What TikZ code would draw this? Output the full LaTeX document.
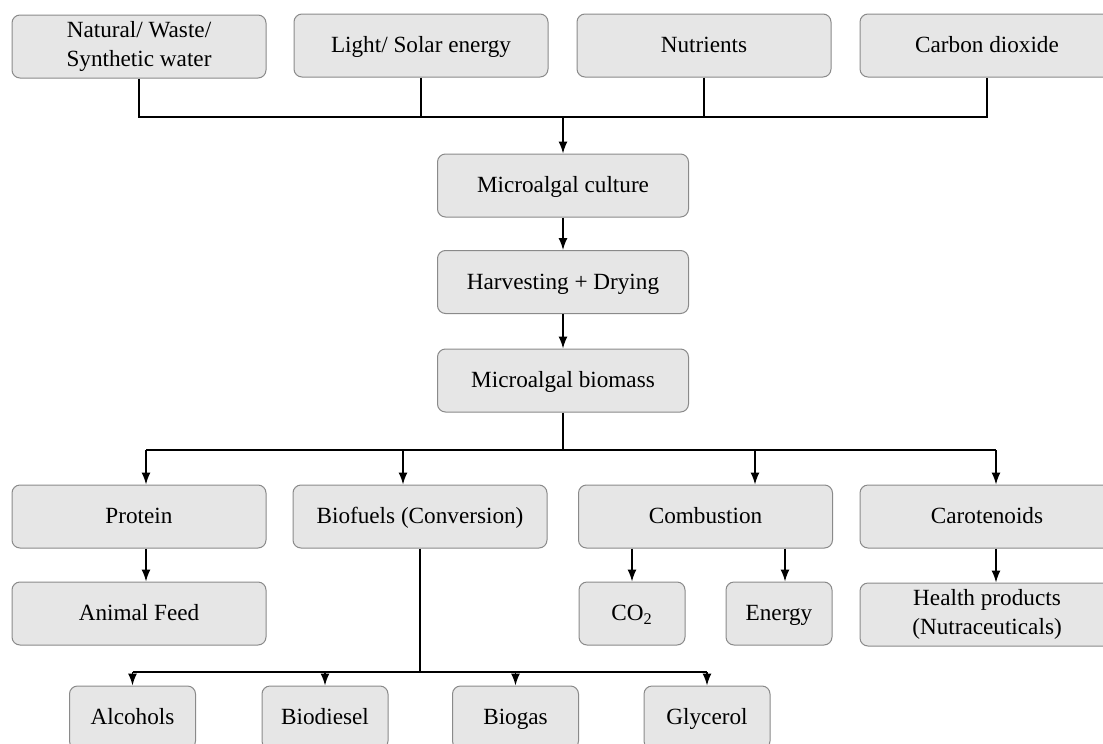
\documentclass[tikz,border=0pt]{standalone}
\usepackage{fontspec}
\setmainfont{Liberation Serif}
\usepackage{xcolor}
\usetikzlibrary{arrows.meta,positioning}
\definecolor{boxfill}{HTML}{E6E6E6}
\definecolor{boxedge}{HTML}{8A8A8A}
\tikzstyle{boxy} = [rectangle, rounded corners=4pt, minimum width=127pt, minimum
height=31.5pt, inner sep=1pt, text centered, align=center, draw=boxedge, line width=0.5pt,
fill=boxfill, text height=9pt, text depth=2pt, font=\fontsize{11.6}{14.5}\selectfont]
\tikzstyle{boxytwo} = [boxy, text height={}, text depth={}]
\tikzstyle{boxymid} = [boxy, minimum width=125.5pt]
\tikzstyle{boxysmall} = [boxy, minimum width=53pt]
\tikzstyle{boxyfuel} = [boxy, minimum width=63pt]
\tikzstyle{line} = [line width=0.7pt, black]
\tikzstyle{arrow} = [line, -{Latex[length=6pt,width=4.5pt]}]

\begin{document}
\begin{tikzpicture}[x=0.5pt, y=-0.5pt]
        \useasboundingbox (0,0) rectangle (1103,744);
        \clip (0,0) rectangle (1103,744);
        % inputs
        \node (water) [boxytwo] at (139,46.5) {Natural/ Waste/\\Synthetic water};
        \node (light) [boxy] at (421,45.5) {Light/ Solar energy};
        \node (nutrients) [boxy] at (704,45.5) {Nutrients};
        \node (carbon) [boxy] at (987,45.5) {Carbon dioxide};
        % process
        \node (culture) [boxymid] at (563,185.5) {Microalgal culture};
        \node (harvest) [boxymid] at (563,282) {Harvesting + Drying};
        \node (biomass) [boxymid] at (563,380.5) {Microalgal biomass};
        % products
        \node (protein) [boxy] at (139,516.5) {Protein};
        \node (biofuels) [boxy] at (420,516.5) {Biofuels (Conversion)};
        \node (combustion) [boxy] at (705.5,516.5) {Combustion};
        \node (carotenoids) [boxy] at (987,516.5) {Carotenoids};
        \node (feed) [boxy] at (139,613.5) {Animal Feed};
        \node (co2) [boxysmall] at (632,613.5) {CO\textsubscript{2}};
        \node (energy) [boxysmall] at (779,613.5) {Energy};
        \node (health) [boxytwo] at (987,614.5) {Health products\\(Nutraceuticals)};
        \node (alcohols) [boxyfuel] at (132.5,717.5) {Alcohols};
        \node (biodiesel) [boxyfuel] at (325,717.5) {Biodiesel};
        \node (biogas) [boxyfuel] at (515.5,717.5) {Biogas};
        \node (glycerol) [boxyfuel] at (707,717.5) {Glycerol};
        %
        \coordinate (topjoin) at (563,117);
        \coordinate (toprot) at (146,450);
        \coordinate (tofuel) at (403,450);
        \coordinate (tocomb) at (755,450);
        \coordinate (tocaro) at (996,450);
        \coordinate (lowjoin) at (420,672);
        %
        \draw [line] (water.south) |- (carbon.south |- topjoin) -- (carbon.south);
        \draw [line] (light.south) -- (light.south |- topjoin);
        \draw [line] (nutrients.south) -- (nutrients.south |- topjoin);
        \draw [arrow] (topjoin) -- (culture.north);
        \draw [arrow] (culture.south) -- (harvest.north);
        \draw [arrow] (harvest.south) -- (biomass.north);
        \draw [line] (biomass.south) -- (biomass.south |- toprot);
        \draw [line] (toprot) -- (tocaro);
        \draw [arrow] (toprot) -- (toprot |- protein.north);
        \draw [arrow] (tofuel) -- (tofuel |- biofuels.north);
        \draw [arrow] (tocomb) -- (tocomb |- combustion.north);
        \draw [arrow] (tocaro) -- (tocaro |- carotenoids.north);
        \draw [arrow] (toprot |- protein.south) -- (toprot |- feed.north);
        \draw [arrow] (co2 |- combustion.south) -- (co2.north);
        \draw [arrow] ([xshift=3pt]energy.north |- combustion.south) -- ([xshift=3pt]energy.north);
        \draw [arrow] (tocaro |- carotenoids.south) -- (tocaro |- health.north);
        \draw [line] (biofuels.south) -- (lowjoin);
        \draw [line] (alcohols.north |- lowjoin) -- (glycerol.north |- lowjoin);
        \draw [arrow] (alcohols.north |- lowjoin) -- (alcohols.north);
        \draw [arrow] (biodiesel.north |- lowjoin) -- (biodiesel.north);
        \draw [arrow] (biogas.north |- lowjoin) -- (biogas.north);
        \draw [arrow] (glycerol.north |- lowjoin) -- (glycerol.north);
    \end{tikzpicture}
\end{document}
